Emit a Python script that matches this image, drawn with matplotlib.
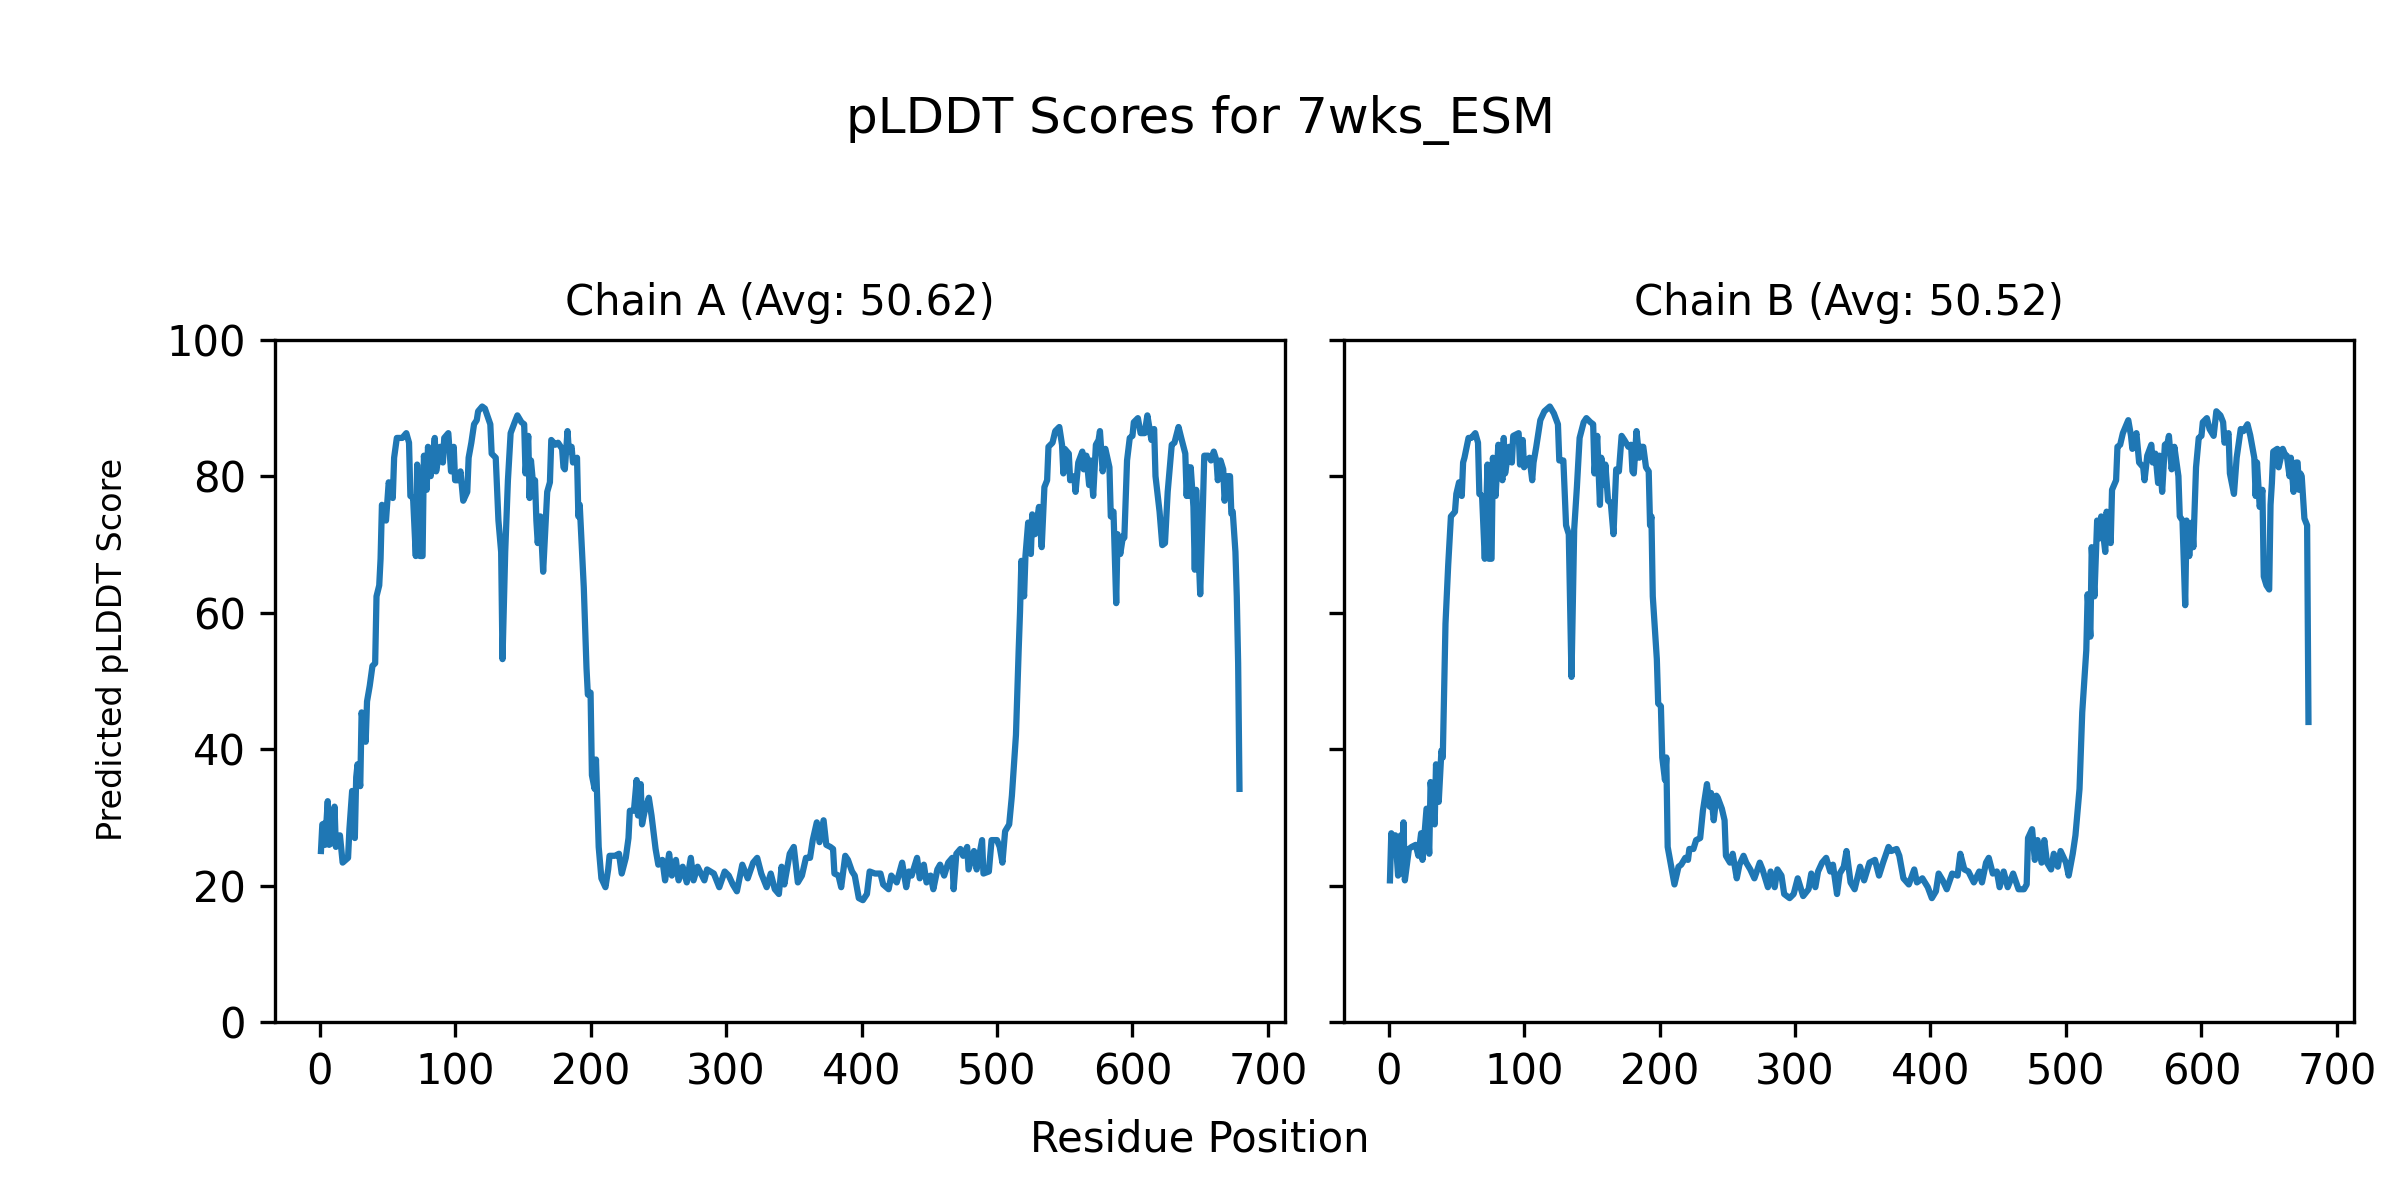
import matplotlib

matplotlib.use("Agg")
import matplotlib.pyplot as plt

# 读图得到的数值 (residue, pLDDT)
chain_a_residue = [1, 2, 3, 4, 6, 7, 10, 11, 12, 15, 17, 21, 22, 24, 26, 27, 28, 30, 31, 34,
                   35, 37, 39, 41, 42, 44, 45, 46, 49, 50, 51, 54, 55, 57, 61, 64, 66, 67, 69, 71,
                   72, 74, 76, 77, 79, 80, 82, 85, 86, 89, 91, 92, 95, 97, 99, 100, 102, 104, 106, 109,
                   110, 112, 114, 116, 117, 120, 122, 125, 126, 127, 130, 132, 134, 135, 137, 139, 141, 144, 146, 149,
                   151, 152, 154, 155, 156, 158, 159, 160, 161, 163, 165, 168, 170, 171, 174, 176, 179, 180, 181, 183,
                   184, 186, 187, 190, 191, 192, 195, 197, 198, 200, 201, 203, 204, 206, 208, 211, 213, 214, 218, 221,
                   223, 226, 228, 229, 232, 234, 235, 237, 238, 240, 243, 245, 248, 250, 253, 255, 258, 260, 263, 265,
                   268, 271, 274, 276, 279, 284, 286, 291, 295, 299, 302, 305, 308, 312, 316, 320, 323, 326, 330, 333,
                   336, 339, 341, 343, 347, 350, 353, 356, 359, 362, 364, 367, 369, 372, 374, 377, 379, 380, 383, 385,
                   388, 390, 393, 395, 398, 401, 404, 406, 410, 414, 416, 420, 422, 426, 430, 433, 435, 437, 441, 443,
                   446, 448, 451, 453, 456, 458, 461, 464, 467, 468, 470, 473, 475, 478, 479, 483, 485, 489, 490, 494,
                   496, 500, 502, 504, 506, 509, 511, 514, 516, 517, 518, 520, 521, 523, 525, 526, 528, 531, 533, 535,
                   537, 538, 541, 543, 546, 548, 549, 550, 553, 554, 557, 558, 560, 563, 564, 566, 568, 569, 571, 573,
                   575, 576, 578, 580, 583, 584, 586, 588, 589, 591, 593, 594, 596, 598, 600, 601, 604, 606, 609, 611,
                   614, 616, 617, 620, 622, 624, 626, 629, 631, 634, 636, 639, 640, 641, 642, 643, 645, 646, 647, 650,
                   652, 653, 656, 658, 660, 662, 663, 665, 667, 668, 670, 672, 673, 674, 676, 677, 678, 679]
chain_a_plddt = [25.1, 29.0, 29.1, 26.0, 32.4, 26.0, 26.4, 31.6, 25.7, 27.4, 23.4, 24.1, 28.3, 33.9, 27.0, 35.9, 37.8, 34.6, 45.4, 41.1,
                 47.0, 49.3, 52.2, 52.6, 62.4, 64.0, 67.9, 75.8, 73.5, 76.4, 79.1, 76.8, 82.7, 85.6, 85.6, 86.3, 84.9, 77.1, 76.8, 68.3,
                 81.7, 68.3, 68.3, 83.0, 78.0, 84.3, 80.0, 85.6, 80.7, 84.3, 82.0, 85.6, 86.3, 80.7, 84.3, 79.4, 79.4, 80.7, 76.4, 77.7,
                 82.7, 84.9, 87.6, 88.2, 89.5, 90.2, 89.9, 88.2, 87.6, 83.3, 82.7, 73.5, 68.9, 53.2, 68.9, 79.4, 86.3, 87.9, 88.9, 87.9,
                 87.6, 80.4, 85.9, 76.8, 82.3, 78.0, 79.4, 73.5, 70.2, 74.1, 66.0, 77.7, 79.1, 85.3, 84.6, 84.9, 84.0, 81.3, 81.0, 86.6,
                 83.6, 84.3, 82.0, 82.7, 74.1, 75.8, 63.7, 51.9, 48.0, 48.3, 36.2, 34.2, 38.5, 25.7, 21.1, 19.8, 22.4, 24.4, 24.4, 24.7,
                 21.8, 24.1, 27.0, 31.0, 31.0, 35.5, 30.3, 34.9, 29.0, 31.0, 32.9, 30.3, 25.4, 23.1, 23.8, 20.8, 24.7, 21.5, 23.8, 20.8,
                 22.8, 20.5, 24.1, 20.8, 22.8, 20.8, 22.4, 21.8, 19.8, 22.1, 21.5, 20.2, 19.2, 23.1, 21.1, 23.4, 24.1, 21.8, 19.8, 21.8,
                 19.5, 18.8, 22.8, 20.2, 24.7, 25.7, 20.5, 21.5, 24.1, 24.1, 26.7, 29.3, 26.4, 29.6, 26.0, 25.7, 25.4, 21.8, 21.5, 19.8,
                 24.4, 23.8, 22.1, 21.5, 18.2, 17.9, 18.8, 22.1, 21.8, 21.8, 20.2, 19.5, 21.5, 20.5, 23.4, 19.8, 22.1, 21.5, 24.1, 21.1,
                 23.1, 20.5, 21.5, 19.5, 22.4, 23.1, 21.5, 23.4, 24.1, 19.5, 24.7, 25.4, 24.4, 25.7, 22.4, 25.1, 22.4, 26.7, 21.8, 22.1,
                 26.7, 26.7, 25.7, 23.4, 28.0, 29.0, 33.2, 42.1, 54.5, 60.1, 67.6, 62.4, 68.3, 73.2, 68.6, 74.4, 71.5, 75.5, 69.6, 78.4,
                 79.4, 84.3, 84.9, 86.6, 87.2, 84.6, 80.4, 84.0, 83.3, 79.4, 80.0, 77.7, 82.0, 83.6, 81.0, 83.0, 78.7, 82.3, 77.1, 84.6,
                 85.3, 86.6, 80.7, 84.0, 81.3, 74.1, 74.8, 61.4, 71.5, 68.6, 71.2, 71.0, 82.3, 85.6, 85.9, 87.9, 88.5, 86.3, 86.3, 88.9,
                 85.3, 86.9, 80.0, 74.8, 69.9, 70.2, 77.7, 84.6, 84.9, 87.2, 85.6, 83.3, 77.1, 81.3, 77.1, 81.3, 75.5, 66.3, 78.0, 62.7,
                 75.8, 83.0, 83.0, 82.3, 83.6, 82.3, 79.4, 82.3, 81.0, 76.4, 80.0, 80.0, 74.5, 74.8, 68.9, 62.4, 52.6, 34.2]

chain_b_residue = [1, 2, 4, 5, 7, 9, 10, 11, 12, 15, 17, 20, 22, 24, 25, 28, 30, 31, 34, 35,
                   37, 39, 40, 42, 44, 46, 49, 50, 52, 54, 55, 56, 59, 61, 64, 66, 67, 69, 71, 73,
                   74, 76, 77, 79, 81, 84, 85, 86, 89, 91, 92, 96, 97, 99, 100, 104, 106, 107, 109, 112,
                   115, 119, 122, 125, 126, 129, 131, 133, 135, 137, 139, 141, 144, 146, 149, 151, 152, 154, 156, 157,
                   159, 160, 162, 164, 166, 168, 170, 172, 174, 177, 179, 180, 181, 183, 185, 186, 188, 190, 192, 193,
                   194, 195, 198, 199, 201, 202, 204, 205, 206, 209, 211, 214, 216, 219, 221, 222, 225, 227, 230, 232,
                   235, 237, 238, 240, 242, 243, 246, 248, 249, 252, 254, 257, 259, 262, 264, 267, 270, 274, 276, 280,
                   282, 285, 287, 290, 292, 296, 299, 302, 306, 310, 312, 315, 317, 320, 323, 326, 328, 331, 333, 336,
                   338, 341, 344, 348, 351, 355, 359, 362, 365, 369, 371, 375, 377, 380, 384, 388, 390, 394, 398, 401,
                   404, 406, 409, 412, 416, 420, 422, 425, 428, 432, 436, 438, 441, 443, 446, 449, 451, 454, 457, 461,
                   465, 469, 471, 472, 475, 477, 479, 482, 484, 486, 489, 491, 494, 496, 500, 502, 505, 507, 510, 512,
                   515, 516, 518, 519, 521, 523, 525, 526, 529, 530, 533, 534, 537, 538, 540, 542, 546, 548, 549, 552,
                   554, 557, 558, 560, 563, 564, 566, 568, 569, 571, 573, 575, 576, 578, 580, 583, 584, 586, 588, 589,
                   591, 593, 594, 596, 598, 600, 601, 604, 606, 609, 611, 614, 616, 617, 620, 621, 624, 626, 629, 631,
                   634, 636, 639, 640, 641, 643, 645, 646, 648, 650, 651, 652, 653, 656, 657, 660, 662, 663, 665, 666,
                   668, 670, 671, 672, 673, 674, 676, 678, 679]
chain_b_plddt = [20.8, 27.7, 24.7, 27.4, 21.5, 27.4, 21.8, 29.3, 20.8, 25.4, 25.7, 26.0, 24.4, 27.7, 23.8, 31.3, 24.7, 35.2, 29.0, 37.8,
                 32.3, 39.8, 38.8, 58.4, 67.0, 74.1, 74.8, 77.4, 79.1, 77.1, 82.0, 82.7, 85.6, 85.6, 86.3, 84.9, 77.4, 77.1, 67.9, 81.7,
                 67.9, 67.9, 82.7, 77.1, 84.6, 79.4, 85.6, 80.4, 84.3, 82.0, 85.9, 86.3, 81.7, 85.3, 81.3, 82.7, 79.4, 82.0, 84.3, 88.2,
                 89.5, 90.2, 89.2, 87.6, 82.3, 82.3, 72.8, 71.5, 50.6, 72.2, 78.4, 85.6, 87.9, 88.5, 87.9, 87.6, 80.4, 85.9, 75.8, 82.7,
                 78.7, 81.7, 76.4, 76.1, 71.5, 81.0, 80.7, 85.9, 85.3, 84.3, 84.6, 80.7, 80.4, 86.6, 82.7, 84.3, 84.3, 81.3, 80.7, 72.8,
                 74.1, 62.4, 53.2, 46.7, 46.3, 38.8, 35.5, 38.8, 25.7, 22.4, 20.2, 22.8, 23.1, 24.1, 23.8, 25.4, 25.4, 26.7, 27.0, 31.0,
                 34.9, 31.6, 33.6, 29.6, 33.2, 32.9, 31.3, 29.6, 24.4, 23.4, 24.7, 21.1, 23.1, 24.4, 23.4, 22.4, 21.1, 23.4, 22.4, 19.8,
                 22.1, 19.8, 22.4, 21.5, 18.8, 18.2, 18.8, 21.1, 18.5, 19.5, 21.8, 19.8, 22.1, 23.4, 24.1, 22.1, 23.1, 18.8, 21.8, 22.8,
                 25.1, 20.5, 19.5, 22.8, 20.8, 23.4, 23.8, 21.5, 23.4, 25.7, 25.1, 25.4, 24.4, 21.1, 20.2, 22.4, 20.5, 21.1, 19.8, 18.2,
                 19.2, 21.8, 20.8, 19.5, 21.8, 21.5, 24.7, 22.4, 22.1, 20.5, 22.1, 20.5, 23.4, 24.1, 21.8, 22.1, 19.8, 22.1, 19.8, 21.8,
                 19.5, 19.5, 20.2, 27.0, 28.3, 23.8, 26.7, 23.4, 26.7, 23.4, 22.4, 24.7, 22.8, 25.1, 23.4, 21.5, 24.7, 27.4, 34.2, 45.4,
                 54.5, 62.7, 56.5, 69.6, 62.4, 73.5, 70.9, 74.1, 68.9, 74.8, 70.2, 78.0, 79.4, 84.3, 84.6, 86.3, 88.2, 85.9, 84.0, 86.3,
                 82.0, 81.3, 79.4, 83.0, 84.6, 82.0, 83.3, 79.0, 83.0, 77.7, 84.6, 84.9, 85.9, 81.0, 84.3, 80.0, 74.1, 73.5, 61.1, 73.5,
                 68.3, 73.2, 69.6, 81.3, 85.6, 85.9, 87.9, 88.5, 86.9, 85.9, 89.5, 88.9, 87.9, 84.9, 86.3, 80.4, 77.4, 82.7, 86.9, 86.6,
                 87.6, 86.0, 82.7, 77.1, 82.0, 75.5, 78.0, 65.3, 64.0, 63.4, 75.8, 79.0, 83.6, 84.0, 81.3, 84.0, 83.0, 83.0, 80.0, 82.7,
                 77.7, 82.0, 82.0, 78.0, 80.4, 80.0, 73.8, 72.8, 44.0]

chain_names = ["A", "B"]
chain_avgs = [50.62, 50.52]
protein_name = "7wks_ESM"

fig, axes = plt.subplots(1, 2, figsize=(8, 4), dpi=300, sharey=True)
fig.subplots_adjust(left=0.1146, right=0.981, bottom=0.148, top=0.717, wspace=0.058)

series = [(chain_a_residue, chain_a_plddt), (chain_b_residue, chain_b_plddt)]
for ax, (res, scores), name, avg in zip(axes, series, chain_names, chain_avgs):
    ax.plot(res, scores)
    ax.set_title("Chain {} (Avg: {:.2f})".format(name, avg), fontsize=10)
    ax.set_ylim(0, 100)
    ax.set_xticks(range(0, 701, 100))

# y轴标题字号较小, 位置偏上
fig.text(0.0467, 0.459, "Predicted pLDDT Score", rotation=90, ha="center", va="center", fontsize=8)
fig.text(0.5, 0.04, "Residue Position", ha="center", va="baseline", fontsize=10)
fig.text(0.5, 0.889, "pLDDT Scores for {}".format(protein_name), ha="center", va="baseline", fontsize=12)

plt.savefig("out.png", dpi=300)
plt.close()
